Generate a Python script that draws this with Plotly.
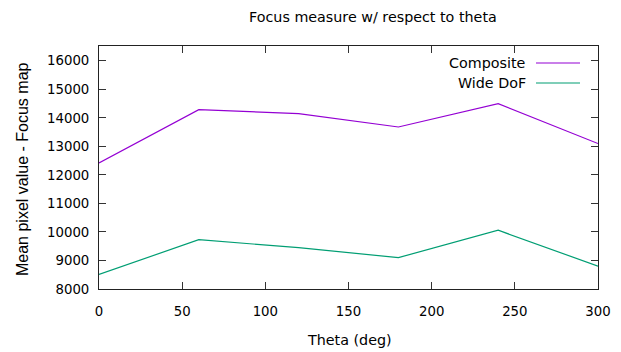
import plotly.graph_objects as go

theta = [0, 60, 120, 180, 240, 300]
composite = [12420, 14290, 14150, 13680, 14500, 13100]
wide_dof = [8510, 9730, 9450, 9100, 10060, 8800]
series_names = ["Composite", "Wide DoF"]
colors = ["#9400d3", "#009e73"]
x_ticks = [0, 50, 100, 150, 200, 250, 300]
y_ticks = [8000, 9000, 10000, 11000, 12000, 13000, 14000, 15000, 16000]
y_tick_labels = [str(v) for v in y_ticks]

FONT = "DejaVu Sans"
fig = go.Figure()
for name, ys, c in zip(series_names, [composite, wide_dof], colors):
    fig.add_trace(go.Scatter(x=theta, y=ys, mode="lines", name=name,
                             line=dict(color=c, width=1.2), showlegend=False))

W, H = 621, 352
L, R, T, B = 99, 23, 46, 63
pw, ph = W - L - R, H - T - B

def px(xp):
    return (xp - L) / pw
def py(yp):
    return (H - B - yp) / ph

TXT = 14.3
annotations = [
    dict(text="Focus measure w/ respect to theta", x=px(373), y=py(17), xref="paper", yref="paper",
         showarrow=False, font=dict(size=TXT, color="#000", family=FONT), xanchor="center", yanchor="middle"),
    dict(text="Theta (deg)", x=px(349), y=py(340), xref="paper", yref="paper",
         showarrow=False, font=dict(size=TXT, color="#000", family=FONT), xanchor="center", yanchor="middle"),
    dict(text="Mean pixel value - Focus map", x=px(22), y=py(169), xref="paper", yref="paper",
         showarrow=False, textangle=-90, font=dict(size=16, color="#000", family="Liberation Sans"),
         xanchor="center", yanchor="middle"),
]
shapes = []
for i, (name, c) in enumerate(zip(series_names, colors)):
    yy = 63 + 20 * i
    annotations.append(dict(text=name, x=px(528), y=py(yy), xref="paper", yref="paper",
                            showarrow=False, font=dict(size=TXT, color="#000", family=FONT),
                            xanchor="right", yanchor="middle"))
    shapes.append(dict(type="line", xref="paper", yref="paper", x0=px(536), x1=px(580),
                       y0=py(yy), y1=py(yy), line=dict(color=c, width=1.2)))

fig.update_layout(
    width=W, height=H,
    margin=dict(l=L, r=R, t=T, b=B, autoexpand=False),
    paper_bgcolor="white", plot_bgcolor="white",
    font=dict(family=FONT, size=13, color="#000"),
    annotations=annotations, shapes=shapes,
    xaxis=dict(range=[0, 300], tickvals=x_ticks, ticks="inside", ticklen=7, tickcolor="#333",
               showline=True, linecolor="#222", linewidth=1, mirror="allticks", showgrid=False,
               zeroline=False, ticklabelstandoff=10, tickfont=dict(size=13.3, family=FONT)),
    yaxis=dict(range=[8000, 16520], tickvals=y_ticks, ticktext=y_tick_labels, ticks="inside",
               ticklen=7, tickcolor="#333",
               showline=True, linecolor="#222", linewidth=1, mirror="allticks", showgrid=False,
               zeroline=False, ticklabelstandoff=6, tickfont=dict(size=13.3, family=FONT)),
)
fig.write_html("out.html", config={"displayModeBar": False},
               post_script="document.body.style.margin='0';document.body.style.overflow='hidden';")
